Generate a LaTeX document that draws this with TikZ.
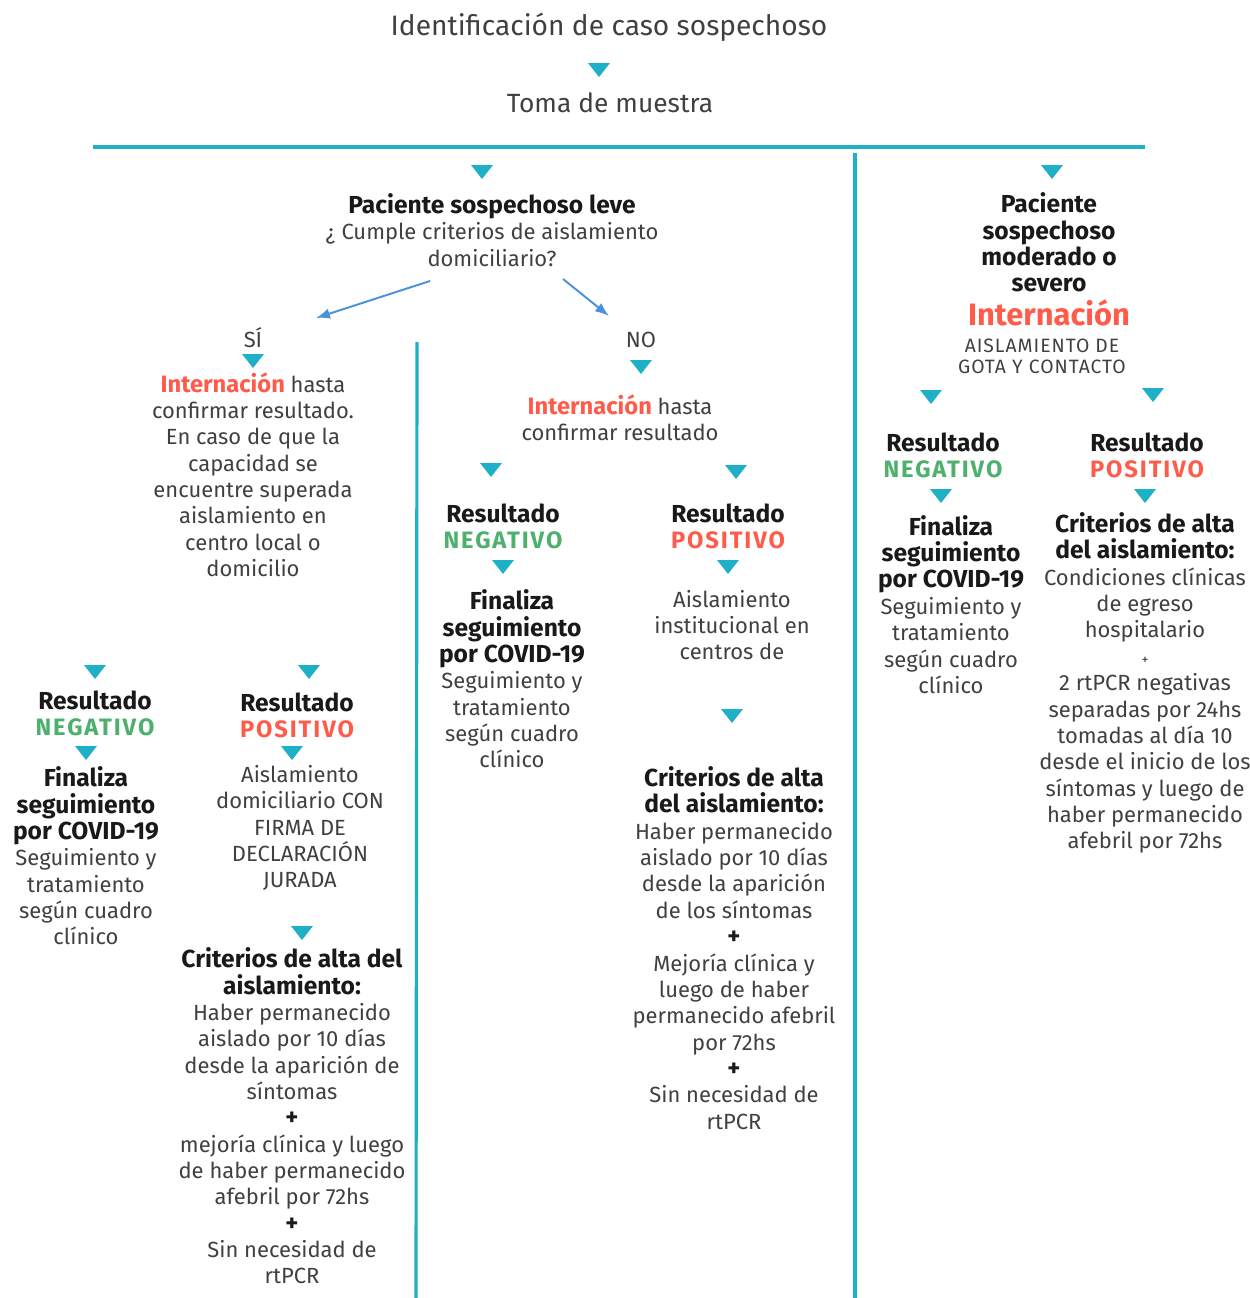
\documentclass[tikz,border=0pt]{standalone}
\usepackage{fontspec}
\setmainfont{Fira Sans}
\usepackage{xcolor}
\usetikzlibrary{positioning,arrows.meta}

\definecolor{turq}{HTML}{1DB0C6}
\definecolor{rojo}{HTML}{FF5B4B}
\definecolor{verde}{HTML}{4DB06C}
\definecolor{azul}{HTML}{4A90DC}
\definecolor{gris}{HTML}{404040}

\newcommand{\caps}[1]{{\fontsize{13.5}{15}\selectfont\bfseries\addfontfeatures{LetterSpace=8}#1}}
\newcommand{\negtxt}{\textcolor{verde}{\caps{NEGATIVO}}}
\newcommand{\postxt}{\textcolor{rojo}{\caps{POSITIVO}}}
\newcommand{\intern}{\textbf{\textcolor{rojo}{Internación}}}
\newcommand{\hd}[1]{{\fontsize{14}{15}\selectfont\bfseries\color{black!90}#1}}

\begin{document}
\begin{tikzpicture}[
    x=0.02cm, y=-0.02cm,
    >=Latex,
    txt/.style={align=center, inner sep=0pt, text=gris, font=\fontsize{12.5}{15}\selectfont},
    big/.style={align=center, inner sep=0pt, text=gris, font=\fontsize{15.5}{18}\selectfont},
    tri/.style={minimum width=0.44cm, minimum height=0.28cm, inner sep=0pt, fill=white,
        path picture={\fill[turq] (path picture bounding box.north west) -- (path picture bounding box.north east) -- (path picture bounding box.south) -- cycle;}},
    sep/.style={turq, line width=1.8pt},
    flecha/.style={->, azul, line width=1.1pt}
]
\useasboundingbox (0,0) rectangle (1250,1298);

% top
\node[big, font=\fontsize{16}{18}\selectfont] (ident) at (609,27) {Identificación de caso sospechoso};
\node[tri] (t0) at (599,70) {};
\node[big, font=\fontsize{15}{18}\selectfont] (toma) at (610,103) {Toma de muestra};
\coordinate (hl) at (93,147);
\coordinate (hr) at (1145,147);
\draw[sep] (hl) -- (hr);
\coordinate (v1a) at (855,153);
\coordinate (v1b) at (855,1298);
\draw[sep] (v1a) -- (v1b);
\coordinate (v2a) at (417,342);
\coordinate (v2b) at (416,1298);
\draw[sep] (v2a) -- (v2b);

% leve
\node[tri] (t1) at (482,172) {};
\node[txt] (leve) at (492,230) {\hd{Paciente sospechoso leve}\\¿ Cumple criterios de aislamiento\\domiciliario?};
\coordinate (siA) at (430,281);
\coordinate (siB) at (316,318);
\coordinate (noA) at (563,279);
\coordinate (noB) at (609,316);
\draw[flecha] (siA) -- (siB);
\draw[flecha] (noA) -- (noB);

% rama SI
\node[txt] (si) at (253,338) {SÍ};
\node[tri] (t2) at (253,361) {};
\node[txt] (sitxt) at (253,474.5) {{\fontsize{13.5}{15}\selectfont\intern} hasta\\confirmar resultado.\\En caso de que la\\capacidad se\\encuentre superada\\aislamiento en\\centro local o\\domicilio};

\node[tri] (t3) at (95,672) {};
\node[tri] (t4) at (309,672) {};
\node[txt] (neg2) at (95,713.5) {\hd{Resultado}\\\negtxt};
\node[tri] (t5) at (86,753) {};
\node[txt] (fin2) at (86,856) {\hd{Finaliza}\\\hd{seguimiento}\\\hd{por COVID-19}\\Seguimiento y\\tratamiento\\según cuadro\\clínico};
\node[txt] (pos2) at (297,715.5) {\hd{Resultado}\\\postxt};
\node[tri] (t6) at (292,753) {};
\node[txt] (ais2) at (300,828) {Aislamiento\\domiciliario CON\\FIRMA DE\\DECLARACIÓN\\JURADA};
\node[tri] (t7) at (302,933) {};
\node[txt] (crit2) at (292,1116) {\hd{Criterios de alta del}\\\hd{aislamiento:}\\Haber permanecido\\aislado por 10 días\\desde la aparición de\\síntomas\\\hd{+}\\mejoría clínica y luego\\de haber permanecido\\afebril por 72hs\\\hd{+}\\Sin necesidad de\\rtPCR};

% rama NO
\node[txt] (no) at (641,340) {NO};
\node[tri] (t8) at (641,367) {};
\node[txt] (notxt) at (620,418) {{\fontsize{13.5}{15}\selectfont\intern} hasta\\confirmar resultado};
\node[tri] (t9) at (491,470) {};
\node[tri] (t10) at (736,472) {};
\node[txt] (neg1) at (503,526.5) {\hd{Resultado}\\\negtxt};
\node[tri] (t11) at (503,567) {};
\node[txt] (fin1) at (512,679) {\hd{Finaliza}\\\hd{seguimiento}\\\hd{por COVID-19}\\Seguimiento y\\tratamiento\\según cuadro\\clínico};
\node[txt] (pos1) at (728,526.5) {\hd{Resultado}\\\postxt};
\node[tri] (t12) at (728,567) {};
\node[txt] (ais1) at (732,625) {Aislamiento\\institucional en\\centros de};
\node[tri] (t13) at (732,716) {};
\node[txt] (crit1) at (734,948) {\hd{Criterios de alta}\\\hd{del aislamiento:}\\Haber permanecido\\aislado por 10 días\\desde la aparición\\de los síntomas\\\hd{+}\\Mejoría clínica y\\luego de haber\\permanecido afebril\\por 72hs\\\hd{+}\\Sin necesidad de\\rtPCR};

% moderado o severo
\node[tri] (t14) at (1052,172) {};
\node[txt] (sev) at (1049,242.5) {\hd{Paciente}\\\hd{sospechoso}\\\hd{moderado o}\\\hd{severo}};
\node[inner sep=0pt, font=\fontsize{17.6}{19}\selectfont] (intsev) at (1049,313) {\intern};
\node[txt, font=\fontsize{11}{12}\selectfont\addfontfeatures{LetterSpace=5}] (gota) at (1042,356.5) {AISLAMIENTO DE\\GOTA Y CONTACTO};
\node[tri] (t15) at (931,397) {};
\node[tri] (t16) at (1153,395) {};
\node[txt] (neg3) at (943,455.5) {\hd{Resultado}\\\negtxt};
\node[tri] (t17) at (941,496) {};
\node[txt] (fin3) at (951,604.5) {\hd{Finaliza}\\\hd{seguimiento}\\\hd{por COVID-19}\\Seguimiento y\\tratamiento\\según cuadro\\clínico};
\node[txt] (pos3) at (1147,455.5) {\hd{Resultado}\\\postxt};
\node[tri] (t18) at (1145,496) {};
\node[txt] (crit3) at (1145,683) {\hd{Criterios de alta}\\\hd{del aislamiento:}\\Condiciones clínicas\\de egreso\\hospitalario\\{\footnotesize +}\\2 rtPCR negativas\\separadas por 24hs\\tomadas al día 10\\desde el inicio de los\\síntomas y luego de\\haber permanecido\\afebril por 72hs};
\end{tikzpicture}
\end{document}
